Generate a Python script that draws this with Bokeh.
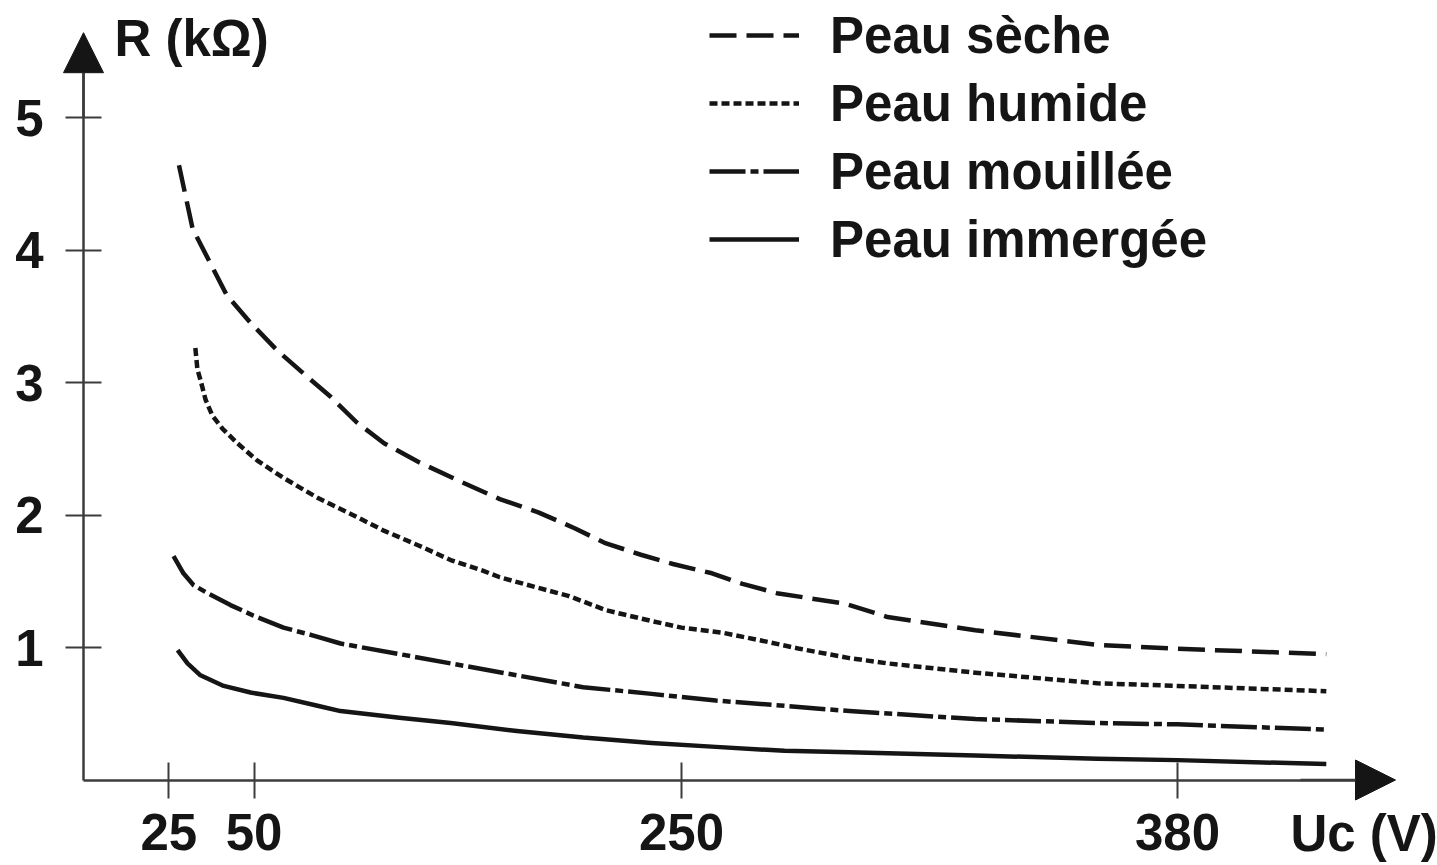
import numpy as np
from bokeh.plotting import figure
from bokeh.models import (Range1d, LinearAxis, FixedTicker, Arrow, NormalHead,
                          Label, Legend, LegendItem)
from bokeh.embed import file_html
from bokeh.resources import INLINE

# ---------------- data ----------------
U_TICKS = [25, 50, 250, 380]          # Uc (V) tick labels
R_TICKS = [1, 2, 3, 4, 5]             # R (kOhm) tick labels
SERIES = ["Peau sèche", "Peau humide", "Peau mouillée", "Peau immergée"]

U_SECHE = [28, 32, 37, 42, 49, 61, 73, 86, 98, 111, 127, 147, 165, 183, 200, 214,
           231, 246, 258, 266, 275, 284, 293, 304, 327, 359, 380, 419]
R_SECHE = [4.64, 4.16, 3.91, 3.66, 3.45, 3.24, 3.07, 2.89, 2.70, 2.54, 2.40, 2.25,
           2.12, 2.02, 1.90, 1.79, 1.70, 1.63, 1.56, 1.48, 1.41, 1.37, 1.33, 1.23,
           1.13, 1.02, 0.99, 0.95]

U_HUMIDE = [32.8, 33.4, 34.3, 35.8, 37.8, 40.8, 45.2, 51.6, 63.8, 79.7, 95, 111,
            127, 142, 157, 165, 183, 197, 215, 236, 250, 261, 273, 281, 294, 304,
            327, 359, 380, 419]
R_HUMIDE = [3.26, 3.10, 3.02, 2.87, 2.75, 2.65, 2.54, 2.41, 2.28, 2.13, 2.01, 1.88,
            1.77, 1.66, 1.58, 1.53, 1.45, 1.39, 1.28, 1.20, 1.15, 1.11, 1.04, 0.99,
            0.92, 0.88, 0.81, 0.73, 0.71, 0.67]

U_MOUILLEE = [26.4, 29.3, 32.3, 36.4, 43.1, 49.9, 63.8, 77.8, 90.5, 118, 142, 173,
              204, 236, 259, 277, 294, 327, 359, 380, 419]
R_MOUILLEE = [1.69, 1.56, 1.47, 1.41, 1.32, 1.24, 1.15, 1.09, 1.03, 0.95, 0.88,
              0.79, 0.70, 0.65, 0.60, 0.56, 0.52, 0.46, 0.43, 0.42, 0.38]

U_IMMERGEE = [27.6, 30.5, 34.3, 41.1, 49.0, 63.8, 79.7, 90.5, 118, 142, 173, 204,
              236, 259, 277, 294, 327, 359, 380, 419]
R_IMMERGEE = [0.98, 0.88, 0.79, 0.71, 0.66, 0.62, 0.56, 0.52, 0.47, 0.43, 0.37,
              0.32, 0.28, 0.25, 0.22, 0.21, 0.185, 0.16, 0.15, 0.12]

# ---------------- schematic (non-linear) Uc axis ----------------
AXIS_KNOT_U = [0, 50, 250, 380]
AXIS_KNOT_POS = [83.0, 253.5, 681.0, 1177.0]


def upos(u):
    u = np.asarray(u, dtype=float)
    slope = (AXIS_KNOT_POS[-1] - AXIS_KNOT_POS[-2]) / (AXIS_KNOT_U[-1] - AXIS_KNOT_U[-2])
    pos = np.interp(u, AXIS_KNOT_U, AXIS_KNOT_POS)
    return np.where(u > AXIS_KNOT_U[-1], AXIS_KNOT_POS[-1] + (u - AXIS_KNOT_U[-1]) * slope, pos)


INK = "#151515"
AXC = "#3c3c3c"
FONT = "Liberation Sans"
FS = "51px"

W, H = 1437, 865
PX_PER_R = 132.5
R_AT_TOP = 779.5 / PX_PER_R
R_AT_BOTTOM = (779.5 - H) / PX_PER_R

p = figure(width=W, height=H, output_backend="svg", toolbar_location=None,
           x_axis_type=None, y_axis_type=None,
           x_range=Range1d(0, W), y_range=Range1d(R_AT_BOTTOM, R_AT_TOP),
           min_border=0, outline_line_color=None)
p.background_fill_color = "white"
p.border_fill_color = "white"

# axes drawn through Bokeh's own axis models, crossing at the origin
x0 = float(upos(0))
tick_pos = [float(v) for v in upos(U_TICKS)]
xaxis = LinearAxis(fixed_location=0, bounds=(x0, 1370),
                   ticker=FixedTicker(ticks=tick_pos),
                   major_label_overrides={tp: str(u) for tp, u in zip(tick_pos, U_TICKS)})
yaxis = LinearAxis(fixed_location=x0, bounds=(0, 5.4),
                   ticker=FixedTicker(ticks=R_TICKS))
for ax in (xaxis, yaxis):
    ax.axis_line_color = AXC
    ax.axis_line_width = 2.5
    ax.major_tick_line_color = AXC
    ax.major_tick_line_width = 2
    ax.major_tick_in = 18
    ax.major_tick_out = 18
    ax.minor_tick_in = 0
    ax.minor_tick_out = 0
    ax.major_label_text_font = FONT
    ax.major_label_text_font_size = FS
    ax.major_label_text_font_style = "bold"
    ax.major_label_text_color = INK
xaxis.major_label_standoff = 16
yaxis.major_label_standoff = 22
p.add_layout(xaxis, "below")
p.add_layout(yaxis, "left")

# arrow heads
p.add_layout(Arrow(end=NormalHead(size=40, fill_color=INK, line_color=INK, line_width=1),
                   x_start=x0, y_start=5.0, x_end=x0, y_end=5.64,
                   line_color=AXC, line_width=2.5))
p.add_layout(Arrow(end=NormalHead(size=40, fill_color=INK, line_color=INK, line_width=1),
                   x_start=1300, y_start=0, x_end=1395, y_end=0,
                   line_color=AXC, line_width=2.5))

# axis titles
p.add_layout(Label(x=114, y=5.596, text="R (kΩ)", text_font=FONT, text_font_size=FS,
                   text_font_style="bold", text_color=INK, text_baseline="middle"))
p.add_layout(Label(x=1290, y=-0.40, text="Uc (V)", text_font=FONT, text_font_size=FS,
                   text_font_style="bold", text_color=INK, text_baseline="middle"))

# curves
styles = [("27 10", U_SECHE, R_SECHE),
          ("8 4", U_HUMIDE, R_HUMIDE),
          ("36 5 8 5", U_MOUILLEE, R_MOUILLEE),
          ("solid", U_IMMERGEE, R_IMMERGEE)]
items = []
for name, (dash, u, r) in zip(SERIES, styles):
    rend = p.line(upos(u), r, line_width=4.5, line_color=INK, line_dash=dash,
                  line_join="round")
    items.append(LegendItem(label=name, renderers=[rend]))

legend = Legend(items=items, location=(709, 593), orientation="vertical",
                glyph_width=90, glyph_height=66, label_height=66, spacing=2,
                padding=0, margin=0, label_standoff=31,
                border_line_color=None, background_fill_alpha=0,
                label_text_font=FONT, label_text_font_size=FS,
                label_text_font_style="bold", label_text_color=INK)
p.add_layout(legend)

open("out.html", "w").write(file_html(p, INLINE))
